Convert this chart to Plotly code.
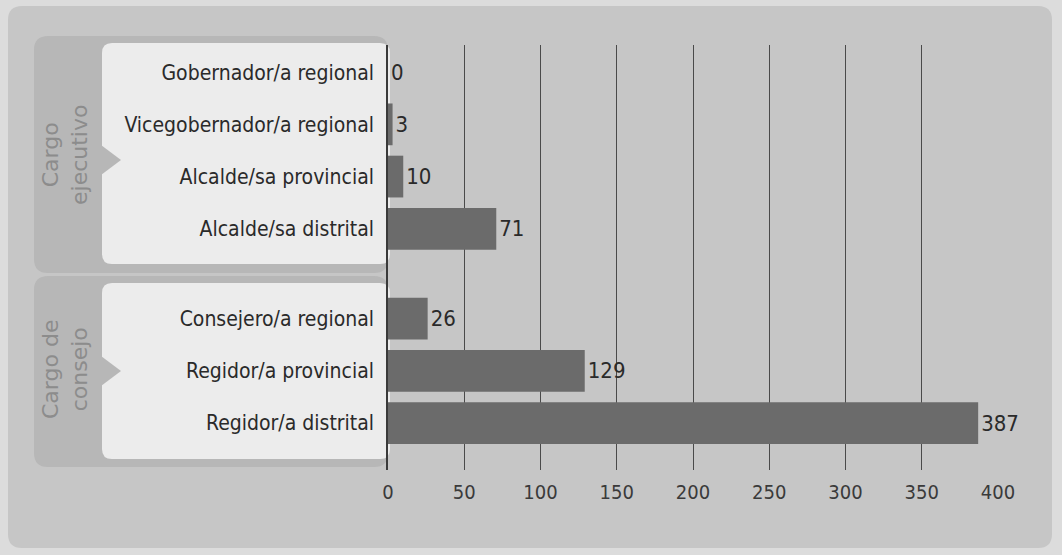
import plotly.graph_objects as go

categories = ["Gobernador/a regional", "Vicegobernador/a regional", "Alcalde/sa provincial",
              "Alcalde/sa distrital", "Consejero/a regional", "Regidor/a provincial",
              "Regidor/a distrital"]
values = [0, 3, 10, 71, 26, 129, 387]
positions = [0, 1, 2, 3, 4.72, 5.72, 6.72]
group_labels = ["Cargo<br>ejecutivo", "Cargo de<br>consejo"]
x_ticks = [0, 50, 100, 150, 200, 250, 300, 350, 400]

W, H = 1062, 555
L, R, T, B = 388, 998, 45, 470
FONT = "Liberation Sans Narrow, DejaVu Sans Condensed, Roboto Condensed, Arial Narrow, DejaVu Sans, sans-serif"

def px(x):
    return (x - L) / (R - L)

def py(y):
    return (B - y) / (B - T)

def rrect(x0, y0, x1, y1, r):
    rx = r / (R - L)
    ry = r / (B - T)
    X0, X1 = px(x0), px(x1)
    Yt, Yb = py(y0), py(y1)
    return (f"M {X0+rx} {Yt} L {X1-rx} {Yt} Q {X1} {Yt} {X1} {Yt-ry} "
            f"L {X1} {Yb+ry} Q {X1} {Yb} {X1-rx} {Yb} L {X0+rx} {Yb} "
            f"Q {X0} {Yb} {X0} {Yb+ry} L {X0} {Yt-ry} Q {X0} {Yt} {X0+rx} {Yt} Z")

def tri(x0, xc, yc, h):
    return (f"M {px(x0)} {py(yc-h)} L {px(xc)} {py(yc)} L {px(x0)} {py(yc+h)} Z")

fig = go.Figure()
fig.add_trace(go.Bar(
    y=positions, x=values, orientation="h", width=0.8,
    marker=dict(color="#6b6b6b", line=dict(width=0)),
    text=[str(v) for v in values], textposition="outside",
    textfont=dict(family=FONT, size=22, color="#2a2a2a"),
    cliponaxis=False, hoverinfo="skip",
))

shapes = []
shapes.append(dict(type="path", xref="paper", yref="paper", path=rrect(8, 6, 1052, 548, 14),
                   fillcolor="#c6c6c6", line=dict(width=0), layer="below"))
tab_col = "#b7b7b7"
shapes.append(dict(type="path", xref="paper", yref="paper", path=rrect(34, 36, 388, 273, 14),
                   fillcolor=tab_col, line=dict(width=0), layer="below"))
shapes.append(dict(type="path", xref="paper", yref="paper", path=rrect(34, 276, 388, 467, 14),
                   fillcolor=tab_col, line=dict(width=0), layer="below"))
shapes.append(dict(type="path", xref="paper", yref="paper", path=rrect(102, 43, 390, 264, 10),
                   fillcolor="#ececec", line=dict(width=0), layer="below"))
shapes.append(dict(type="path", xref="paper", yref="paper", path=rrect(102, 283, 390, 459, 10),
                   fillcolor="#ececec", line=dict(width=0), layer="below"))
shapes.append(dict(type="path", xref="paper", yref="paper", path=tri(101, 121, 160, 15),
                   fillcolor=tab_col, line=dict(width=0), layer="below"))
shapes.append(dict(type="path", xref="paper", yref="paper", path=tri(101, 121, 371, 15),
                   fillcolor=tab_col, line=dict(width=0), layer="below"))

annotations = []
for lab, yc in zip(group_labels, [155, 370]):
    annotations.append(dict(x=px(65), y=py(yc), xref="paper", yref="paper", text=lab,
                            xanchor="center", yanchor="middle",
                            textangle=-90, showarrow=False,
                            font=dict(family="DejaVu Sans, sans-serif", size=22, color="#8c8c8c"),
                            align="center"))

fig.update_layout(
    width=W, height=H,
    margin=dict(l=L, r=W - R, t=T, b=H - B, pad=0),
    paper_bgcolor="#dcdcdc", plot_bgcolor="rgba(0,0,0,0)",
    showlegend=False, bargap=0.2,
    shapes=shapes, annotations=annotations,
    xaxis=dict(range=[0, 400], tickvals=x_ticks, ticktext=[str(t) for t in x_ticks],
               showgrid=True, gridcolor="#4a4a4a", gridwidth=1, zeroline=False,
               showline=False, ticks="", ticklabelstandoff=8,
               tickfont=dict(family=FONT, size=20, color="#3a3a3a"), fixedrange=True),
    yaxis=dict(range=[7.62, -0.52], tickvals=positions, ticktext=categories,
               showgrid=False, zeroline=False, showline=True, linecolor="#3a3a3a", linewidth=1.5,
               ticks="", ticklabelstandoff=8,
               tickfont=dict(family=FONT, size=21, color="#2a2a2a"), fixedrange=True),
)

fig.write_html("out.html", post_script="document.body.style.margin='0';",
               config={"displayModeBar": False})
